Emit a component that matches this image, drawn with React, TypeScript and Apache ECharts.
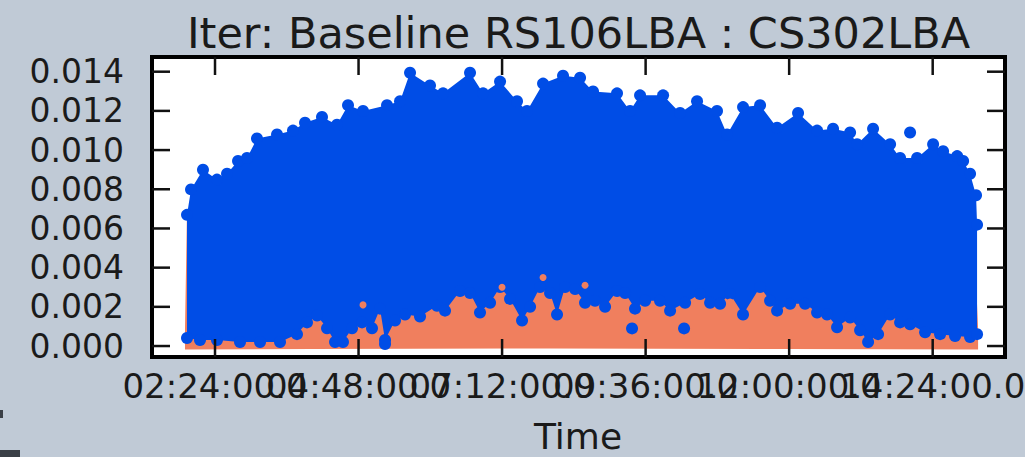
import React, { useEffect, useRef } from "react";
import * as echarts from "echarts";

const TITLE = "Iter: Baseline RS106LBA : CS302LBA";
const X_LABEL = "Time";
const X_TICKS = [2.4, 4.8, 7.2, 9.6, 12.0, 14.4];
const Y_TICKS = [0, 0.002, 0.004, 0.006, 0.008, 0.01, 0.012, 0.014];
const X_RANGE = [1.3465, 15.609];
const Y_RANGE = [-0.00056, 0.01475];

// upper edge of the blue cloud (hours, value)
const blueTopTime = [1.932, 1.999, 2.199, 2.433, 2.601, 2.785, 2.935, 3.102, 3.437, 3.704, 3.905, 4.189, 4.44, 4.624, 4.875, 5.276, 5.494, 5.661, 5.995, 6.213, 6.664, 6.882, 7.166, 7.45, 7.617, 7.885, 8.219, 8.504, 8.721, 9.122, 9.34, 9.507, 9.892, 10.176, 10.46, 10.794, 10.962, 11.229, 11.514, 11.798, 12.149, 12.467, 12.734, 13.019, 13.136, 13.403, 13.688, 13.855, 14.139, 14.407, 14.574, 14.809, 14.909, 15.025, 15.125, 15.142];
const blueTopValue = [0.007, 0.0083, 0.0093, 0.0088, 0.0091, 0.00975, 0.0099, 0.0109, 0.0111, 0.0113, 0.0117, 0.012, 0.0116, 0.0126, 0.0123, 0.0126, 0.0128, 0.01425, 0.0136, 0.0132, 0.01425, 0.0132, 0.0138, 0.0128, 0.0123, 0.0137, 0.0141, 0.014, 0.0133, 0.0132, 0.0123, 0.0131, 0.0131, 0.0122, 0.0128, 0.0123, 0.0111, 0.0125, 0.0126, 0.01145, 0.0122, 0.0113, 0.0114, 0.0112, 0.0106, 0.0114, 0.0106, 0.0099, 0.0099, 0.0106, 0.01025, 0.01, 0.00975, 0.0091, 0.008, 0.0065];

// lower edge of the blue cloud (where the orange shows below it)
const blueBottomTime = [1.932, 2.149, 2.433, 2.818, 3.153, 3.487, 3.771, 3.938, 4.106, 4.273, 4.407, 4.54, 4.691, 4.858, 5.025, 5.159, 5.243, 5.41, 5.577, 5.828, 6.112, 6.246, 6.497, 6.664, 6.831, 6.999, 7.166, 7.333, 7.534, 7.668, 7.835, 8.002, 8.119, 8.253, 8.42, 8.587, 8.754, 8.922, 9.122, 9.256, 9.423, 9.591, 9.841, 10.009, 10.26, 10.51, 10.678, 10.845, 11.012, 11.229, 11.514, 11.681, 11.798, 12.016, 12.266, 12.467, 12.634, 12.801, 13.019, 13.186, 13.32, 13.487, 13.688, 13.855, 14.022, 14.273, 14.524, 14.774, 15.025, 15.142];
const blueBottomValue = [0.0001, 0.0, 0.0, -0.0001, -0.0001, -0.0001, 0.0003, 0.0009, 0.00125, 0.0006, -0.0001, -0.0001, 0.0006, 0.0009, 0.0006, 0.0016, 0.0, 0.001, 0.0013, 0.0012, 0.00175, 0.0015, 0.0025, 0.0024, 0.0014, 0.0019, 0.0027, 0.0021, 0.001, 0.0017, 0.0027, 0.0024, 0.0013, 0.0027, 0.0026, 0.0019, 0.002, 0.0017, 0.0025, 0.0024, 0.0016, 0.002, 0.002, 0.0015, 0.0019, 0.00235, 0.0019, 0.00185, 0.00235, 0.0013, 0.0027, 0.002, 0.0015, 0.00185, 0.00185, 0.0014, 0.0013, 0.00065, 0.00115, 0.0005, -0.0001, 0.0003, 0.0013, 0.0009, 0.0008, 0.0004, 0.0003, 0.0002, 0.00015, 0.0003];

// orange cloud outline (mostly hidden behind the blue one)
const orangeTopTime = [1.898, 1.93, 3.0, 5.0, 7.0, 9.0, 11.0, 13.0, 15.12, 15.159];
const orangeTopValue = [0.0008, 0.0066, 0.0035, 0.0032, 0.0034, 0.0034, 0.0034, 0.0032, 0.0036, 0.0009];
const orangeBottomTime = [1.898, 4.0, 8.0, 12.0, 15.159];
const orangeBottomValue = [-0.00018, -0.00015, -0.00012, -0.00015, -0.00018];

// isolated points
const blueOutlierTime = [9.373, 10.243, 14.022, 5.243];
const blueOutlierValue = [0.0009, 0.0009, 0.0109, 0.0001];
const orangeSpeckTime = [7.885, 7.199, 4.875, 11.012, 8.587];
const orangeSpeckValue = [0.0035, 0.003, 0.0021, 0.00225, 0.0031];

const BLUE = "#004de6";
const ORANGE = "#f07f5e";
const BG = "#c0cad6";
const INK = "#1a1a1a";
const FONT = "DejaVu Sans";
const DOT = 12;
const TICK_LEN = 18;

function zip(a: number[], b: number[]) {
  return a.map((t, i) => [t, b[i]]);
}

function fmtTime(h: number) {
  const total = Math.round(h * 3600);
  const hh = Math.floor(total / 3600);
  const mm = Math.floor((total % 3600) / 60);
  const ss = total % 60;
  const p = (n: number) => String(n).padStart(2, "0");
  return `${p(hh)}:${p(mm)}:${p(ss)}.0`;
}

function polygonSeries(upper: number[][], lower: number[][], upOff: number, lowOff: number, color: string) {
  const verts = [
    ...upper.map((p) => [p[0], p[1], upOff]),
    ...lower.slice().reverse().map((p) => [p[0], p[1], lowOff]),
  ];
  return {
    type: "custom",
    clip: true,
    silent: true,
    data: verts.map((v) => [v[0], v[1]]),
    renderItem: (params: any, api: any) => {
      if (params.dataIndex !== 0) return { type: "group", children: [] };
      const pts = verts.map((v) => {
        const c = api.coord([v[0], v[1]]);
        return [c[0], c[1] + v[2]];
      });
      return { type: "polygon", shape: { points: pts }, style: { fill: color } };
    },
  };
}

function dots(data: number[][], color: string, size: number, offY: number) {
  return {
    type: "scatter",
    data,
    symbol: "circle",
    symbolSize: size,
    symbolOffset: [0, offY],
    itemStyle: { color, opacity: 1 },
    silent: true,
  };
}

const tickLine = { stroke: "#111111", lineWidth: 2.5 };

// x ticks (bottom + top, pointing inward) with their labels
const xTickSeries = {
  type: "custom",
  clip: false,
  silent: true,
  z: 10,
  data: X_TICKS.map((t) => [t, Y_RANGE[0]]),
  renderItem: (params: any, api: any) => {
    const t = api.value(0);
    const b = api.coord([t, Y_RANGE[0]]);
    const tp = api.coord([t, Y_RANGE[1]]);
    return {
      type: "group",
      children: [
        { type: "line", shape: { x1: b[0], y1: b[1], x2: b[0], y2: b[1] - TICK_LEN }, style: tickLine },
        { type: "line", shape: { x1: tp[0], y1: tp[1], x2: tp[0], y2: tp[1] + TICK_LEN }, style: tickLine },
        {
          type: "text",
          x: b[0],
          y: b[1] + 12,
          style: {
            text: fmtTime(t),
            fontSize: 34,
            fontFamily: FONT,
            fill: INK,
            align: "center",
            verticalAlign: "top",
            textAlign: "center",
            textVerticalAlign: "top",
          },
        },
      ],
    };
  },
};

// y ticks (left + right, pointing inward)
const yTickSeries = {
  type: "custom",
  clip: false,
  silent: true,
  z: 10,
  data: Y_TICKS.map((v) => [X_RANGE[0], v]),
  renderItem: (params: any, api: any) => {
    const v = api.value(1);
    const l = api.coord([X_RANGE[0], v]);
    const r = api.coord([X_RANGE[1], v]);
    return {
      type: "group",
      children: [
        { type: "line", shape: { x1: l[0], y1: l[1], x2: l[0] + TICK_LEN, y2: l[1] }, style: tickLine },
        { type: "line", shape: { x1: r[0], y1: r[1], x2: r[0] - TICK_LEN, y2: r[1] }, style: tickLine },
      ],
    };
  },
};

export default function App() {
  const ref = useRef<HTMLDivElement>(null);
  useEffect(() => {
    document.body.style.margin = "0";
    document.body.style.background = BG;
    const chart = echarts.init(ref.current!, null, { renderer: "svg" });
    const blueTop = zip(blueTopTime, blueTopValue);
    const blueBottom = zip(blueBottomTime, blueBottomValue);
    chart.setOption({
      animation: false,
      backgroundColor: BG,
      textStyle: { fontFamily: FONT },
      grid: {
        left: 152,
        right: 20,
        top: 57,
        bottom: 100,
        show: true,
        backgroundColor: "#ffffff",
        borderColor: "#000000",
        borderWidth: 4,
        z: 0,
      },
      xAxis: {
        type: "value",
        min: X_RANGE[0],
        max: X_RANGE[1],
        axisLine: { show: false, onZero: false },
        splitLine: { show: false },
        axisTick: { show: false },
        axisLabel: { show: false },
      },
      yAxis: {
        type: "value",
        min: Y_RANGE[0],
        max: Y_RANGE[1],
        axisLine: { show: false, onZero: false },
        splitLine: { show: false },
        axisTick: { show: false },
        axisLabel: {
          show: true,
          customValues: Y_TICKS,
          formatter: (v: number) => v.toFixed(3),
          fontSize: 33,
          fontFamily: FONT,
          color: INK,
          margin: 28,
          showMinLabel: true,
          showMaxLabel: true,
        },
      },
      series: [
        polygonSeries(zip(orangeTopTime, orangeTopValue), zip(orangeBottomTime, orangeBottomValue), 0, 0, ORANGE),
        polygonSeries(blueTop, blueBottom, DOT / 2, -DOT / 2, BLUE),
        dots(blueTop, BLUE, DOT, DOT / 2),
        dots(blueBottom, BLUE, DOT, -DOT / 2),
        dots(zip(blueOutlierTime, blueOutlierValue), BLUE, DOT, 0),
        dots(zip(orangeSpeckTime, orangeSpeckValue), ORANGE, 7, 0),
        xTickSeries,
        yTickSeries,
      ],
      graphic: [
        {
          type: "text",
          x: 578.5,
          y: 33,
          style: {
            text: TITLE,
            fontSize: 43,
            fontFamily: FONT,
            fill: INK,
            textAlign: "center",
            textVerticalAlign: "middle",
          },
        },
        {
          type: "text",
          x: 578,
          y: 436,
          style: {
            text: X_LABEL,
            fontSize: 36,
            fontFamily: FONT,
            fill: INK,
            textAlign: "center",
            textVerticalAlign: "middle",
          },
        },
        { type: "rect", shape: { x: 0, y: 450, width: 20, height: 7 }, style: { fill: "#3a3f46" } },
        { type: "rect", shape: { x: 0, y: 410, width: 3, height: 8 }, style: { fill: "#3a3f46" } },
      ],
    });
    return () => chart.dispose();
  }, []);
  return (
    <div
      ref={ref}
      style={{ position: "absolute", left: 0, top: 0, width: 1025, height: 457 }}
    />
  );
}
